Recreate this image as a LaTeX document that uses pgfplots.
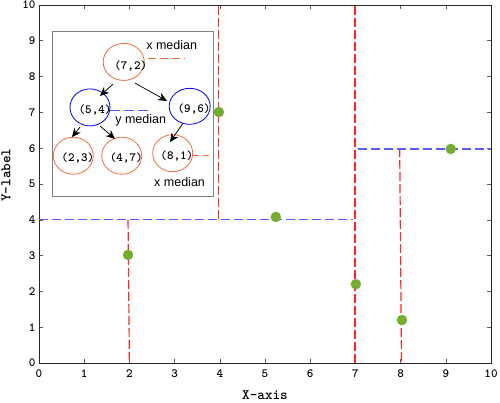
\documentclass[border=0pt]{standalone}
\usepackage{pgfplots}
\pgfplotsset{compat=1.18}
\usepackage{fontspec}
\setmainfont{Liberation Sans}
\usetikzlibrary{arrows.meta}
\definecolor{ptgreen}{rgb}{0.466,0.674,0.188}
\definecolor{ndorange}{RGB}{242,110,60}
\definecolor{lred}{RGB}{255,40,40}
\definecolor{lblue}{RGB}{90,90,255}
\definecolor{tickgray}{RGB}{90,90,90}
\definecolor{txtgray}{RGB}{40,40,40}
\begin{document}
\begin{tikzpicture}[x=1pt,y=1pt]
\begin{axis}[
  at={(0,0)}, anchor=south west,
  scale only axis, width=452pt, height=358pt,
  xmin=0, xmax=10, ymin=0, ymax=10,
  xtick={0,1,...,10}, ytick={0,1,...,10},
  tick align=inside, major tick length=4pt,
  tick style={draw=tickgray, line width=0.6pt},
  axis line style={draw=txtgray, line width=0.7pt},
  /pgf/number format/assume math mode=true,
  ticklabel style={font=\fontsize{12.5}{13}\selectfont\ttfamily\bfseries},
  xticklabel style={yshift=-3pt},
  xlabel={X-axis}, ylabel={Y-label},
  label style={font=\fontsize{14.5}{15}\selectfont\ttfamily\bfseries},
  xlabel style={at={(axis description cs:0.5,0)}, anchor=center, yshift=-32pt},
  ylabel style={at={(axis description cs:-0.073,0.525)}, anchor=center},
  clip=false,
]
% split lines
\addplot[draw=lred, no markers, line width=1.2pt, dash pattern=on 9pt off 3pt] coordinates {(3.98,4.02) (3.98,10)};
\addplot[draw=lred, no markers, line width=1.2pt, dash pattern=on 9pt off 3pt] coordinates {(1.97,4) (2.0,0)};
\addplot[draw=lred, no markers, line width=1.2pt, dash pattern=on 9pt off 3pt] coordinates {(7.98,6) (8.02,0)};
\addplot[draw=lblue, no markers, line width=1.3pt, dash pattern=on 9pt off 4pt] coordinates {(7.05,5.98) (10,5.98)};
\addplot[draw=lblue, no markers, line width=1.3pt, dash pattern=on 9pt off 4pt] coordinates {(0,4.0) (6.95,4.0)};
\addplot[draw=lred, no markers, line width=1.2pt, dash pattern=on 9pt off 3pt] coordinates {(6.99,0) (6.99,10)};
% points
\addplot[only marks, mark=*, mark size=5pt, draw=ptgreen, fill=ptgreen, mark options={draw=ptgreen, fill=ptgreen}] coordinates {
 (1.97,3.02) (3.98,7.01) (5.24,4.08) (7.01,2.2) (8.03,1.2) (9.11,5.98)};
% inset tree diagram
\draw[draw=black!50, line width=0.8pt, fill=white] (axis cs:0.29,4.66) rectangle (axis cs:3.85,9.27);
\tikzset{el/.style={draw=ndorange, line width=0.8pt}, bel/.style={draw=blue, line width=0.8pt},
         lab/.style={font=\fontsize{12.5}{13}\selectfont\ttfamily\bfseries, inner sep=0pt}}
\draw[el]  (axis cs:1.874,8.41) ellipse [x radius=20.5pt, y radius=18.5pt];
\draw[bel] (axis cs:1.128,7.14) ellipse [x radius=20pt, y radius=18.5pt];
\draw[bel] (axis cs:3.334,7.17) ellipse [x radius=20.5pt, y radius=18pt];
\draw[el]  (axis cs:0.759,5.79) ellipse [x radius=20pt, y radius=18.5pt];
\draw[el]  (axis cs:1.830,5.79) ellipse [x radius=20pt, y radius=18.5pt];
\draw[el]  (axis cs:2.958,5.86) ellipse [x radius=20pt, y radius=18.5pt];
\node[lab] at (axis cs:2.03,8.30) {(7,2)};
\node[lab] at (axis cs:1.24,7.07) {(5,4)};
\node[lab] at (axis cs:3.43,7.10) {(9,6)};
\node[lab] at (axis cs:0.86,5.72) {(2,3)};
\node[lab] at (axis cs:1.93,5.72) {(4,7)};
\node[lab] at (axis cs:3.05,5.79) {(8,1)};
\tikzset{arr/.style={-{Stealth[length=9pt,width=8pt]}, line width=0.7pt, draw=black, fill=black}}
\draw[arr] (axis cs:1.637,7.79) -- (axis cs:1.35,7.46);
\draw[arr] (axis cs:2.124,7.82) -- (axis cs:2.832,7.32);
\draw[arr] (axis cs:0.907,6.59) -- (axis cs:0.730,6.31);
\draw[arr] (axis cs:1.35,6.62) -- (axis cs:1.681,6.26);
\draw[arr] (axis cs:3.186,6.70) -- (axis cs:2.898,6.17);
\node[font=\fontsize{12.5}{14}\selectfont] at (axis cs:2.936,8.88) {x median};
\node[font=\fontsize{12.5}{14}\selectfont] at (axis cs:2.25,6.79) {y median};
\node[font=\fontsize{12.5}{14}\selectfont] at (axis cs:3.11,5.06) {x median};
\draw[draw=ndorange, line width=0.8pt, dash pattern=on 8pt off 4pt] (axis cs:2.41,8.52) -- (axis cs:3.23,8.52);
\draw[draw=lblue, line width=1.2pt, dash pattern=on 10pt off 4pt] (axis cs:1.57,7.05) -- (axis cs:2.41,7.05);
\draw[draw=ndorange, line width=0.8pt, dash pattern=on 6pt off 4pt] (axis cs:3.41,5.81) -- (axis cs:3.76,5.81);
\end{axis}
\pgfresetboundingbox
\path[use as bounding box] (-39pt,-39pt) rectangle (461pt,363pt);
\end{tikzpicture}
\end{document}
